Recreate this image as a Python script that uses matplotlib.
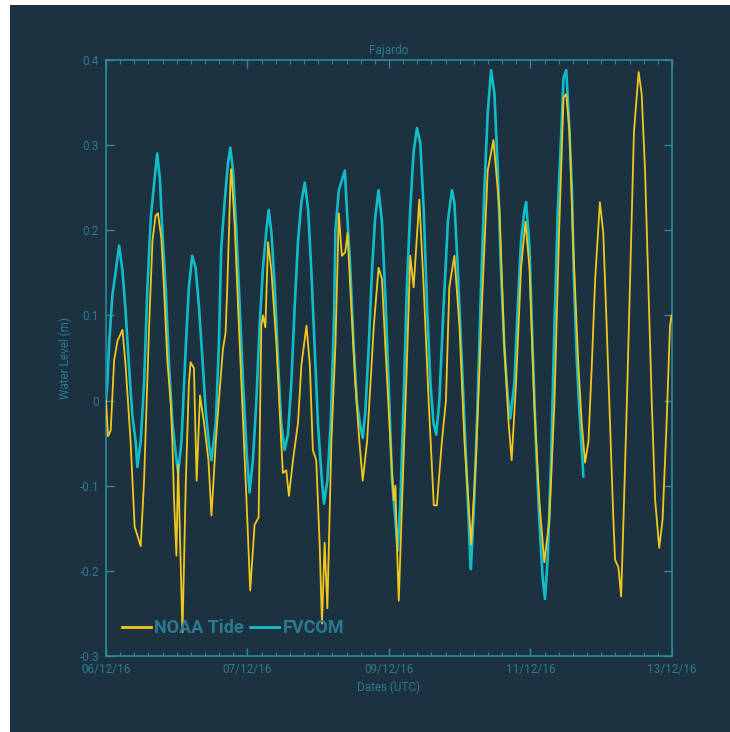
import pandas as pd
import matplotlib
matplotlib.use("Agg")
import matplotlib.pyplot as plt
import matplotlib.dates as mdates
from matplotlib.patches import Rectangle
from matplotlib.ticker import AutoMinorLocator, FuncFormatter, MultipleLocator

# hours since 06/12/16 00:00 UTC, water level in metres
noaa_hours = [0.0, 0.6, 1.4, 2.4, 3.4, 4.9, 5.8, 7.3, 8.5, 10.3, 11.3, 12.8, 13.8, 14.7, 15.4,
              16.4, 17.2, 18.2, 19.2, 19.7, 20.2, 20.9, 21.4, 22.7, 23.7, 24.6, 25.1, 26.1,
              26.9, 27.9, 29.1, 30.4, 31.3, 32.6, 33.5, 34.7, 35.5, 36.0, 37.0, 37.2, 38.2,
              39.2, 40.7, 41.7, 42.8, 44.1, 45.3, 46.1, 46.6, 47.3, 48.1, 49.1, 50.6, 52.0,
              52.5, 53.5, 54.3, 55.5, 57.0, 58.0, 59.5, 60.5, 61.4, 62.4, 63.4, 64.1, 64.9,
              65.7, 66.9, 68.1, 69.1, 70.0, 71.0, 71.7, 72.5, 74.0, 75.2, 76.2, 77.5, 79.5,
              80.9, 81.9, 82.9, 84.4, 85.4, 85.9, 86.4, 86.9, 87.9, 89.3, 90.3, 91.3, 93.0,
              94.3, 95.8, 97.3, 98.2, 99.7, 100.9, 101.9, 103.4, 104.9, 106.4, 108.4, 109.8,
              111.8, 113.3, 115.0, 116.8, 118.2, 119.5, 120.4, 121.7, 123.2, 124.5, 125.7,
              127.1, 128.6, 130.1, 131.6, 133.1, 134.5, 135.8, 136.6, 137.6, 138.7, 140.2,
              141.2, 142.2, 143.2, 144.2, 145.2, 146.6, 147.6, 148.6, 149.6, 150.6, 151.1,
              152.1, 152.9, 153.6, 154.6, 155.5, 156.7, 158.1, 159.0, 160.0, 161.0, 162.0,
              163.0, 164.2, 165.2, 166.4, 167.4, 167.9]
noaa_level = [0.0, -0.042, -0.035, 0.047, 0.07, 0.083, 0.042, -0.048, -0.148, -0.171, -0.094,
              0.088, 0.188, 0.217, 0.22, 0.192, 0.133, 0.047, -0.003, -0.048, -0.117, -0.182,
              -0.075, -0.272, -0.094, 0.02, 0.045, 0.038, -0.094, 0.006, -0.026, -0.07, -0.135,
              -0.048, 0.0, 0.06, 0.08, 0.133, 0.265, 0.272, 0.206, 0.11, -0.026, -0.117, -0.223,
              -0.146, -0.137, 0.088, 0.1, 0.086, 0.186, 0.152, 0.065, -0.048, -0.085, -0.082,
              -0.112, -0.07, -0.026, 0.042, 0.088, 0.042, -0.058, -0.07, -0.167, -0.262, -0.167,
              -0.244, -0.048, 0.065, 0.22, 0.17, 0.174, 0.197, 0.133, 0.02, -0.048, -0.094,
              -0.048, 0.088, 0.156, 0.143, 0.065, -0.048, -0.117, -0.1, -0.176, -0.235, -0.117,
              0.042, 0.17, 0.133, 0.236, 0.133, -0.003, -0.123, -0.123, -0.048, 0.0, 0.133,
              0.17, 0.088, -0.048, -0.169, -0.07, 0.133, 0.27, 0.306, 0.224, 0.065, -0.026,
              -0.07, 0.02, 0.156, 0.21, 0.156, -0.003, -0.117, -0.19, -0.14, -0.003, 0.2, 0.356,
              0.36, 0.315, 0.179, 0.042, -0.026, -0.073, -0.048, 0.042, 0.143, 0.233, 0.197,
              0.088, -0.026, -0.14, -0.187, -0.196, -0.23, -0.14, -0.003, 0.133, 0.315, 0.386,
              0.36, 0.27, 0.133, -0.003, -0.117, -0.173, -0.14, -0.026, 0.088, 0.1]

fvcom_hours = [0.0, 0.4, 0.9, 1.9, 2.9, 3.9, 4.9, 5.8, 6.8, 7.8, 8.8, 9.3, 10.3, 11.3, 12.3,
               13.3, 14.3, 15.2, 16.0, 16.7, 17.7, 18.7, 19.7, 20.7, 21.4, 22.4, 23.7, 24.6,
               25.6, 26.6, 27.6, 28.6, 29.6, 30.6, 31.3, 32.6, 33.5, 34.2, 35.2, 36.2, 36.9,
               37.7, 38.7, 39.7, 40.7, 41.7, 42.6, 43.6, 44.6, 45.6, 46.6, 47.6, 48.3, 49.1,
               50.1, 51.1, 52.0, 53.0, 54.0, 55.0, 56.0, 57.0, 58.0, 59.0, 60.0, 60.9, 61.9,
               62.9, 63.9, 64.7, 65.7, 66.7, 67.7, 68.1, 69.1, 70.1, 70.9, 71.5, 72.5, 73.5,
               74.5, 75.5, 76.2, 77.0, 78.0, 79.0, 79.9, 80.9, 81.9, 82.9, 83.9, 84.9, 85.9,
               86.6, 87.4, 88.3, 89.3, 90.3, 91.3, 92.3, 93.3, 94.3, 95.3, 96.3, 97.2, 98.0,
               98.9, 100.2, 101.5, 101.9, 102.7, 103.4, 104.4, 105.4, 106.4, 107.4, 108.1,
               108.3, 109.3, 110.3, 111.3, 112.3, 113.3, 114.3, 115.3, 116.3, 117.2, 118.2,
               119.2, 120.0, 121.2, 122.2, 123.2, 124.2, 124.7, 125.7, 126.6, 127.6, 128.6,
               129.6, 130.3, 131.1, 132.1, 133.1, 134.1, 135.4, 135.8, 136.6, 137.3, 138.3,
               138.9, 139.7, 140.5, 141.2, 141.7]
fvcom_level = [0.0, 0.02, 0.065, 0.124, 0.152, 0.182, 0.152, 0.106, 0.042, -0.017, -0.048,
               -0.078, -0.048, 0.02, 0.133, 0.215, 0.256, 0.29, 0.26, 0.2, 0.133, 0.042, -0.026,
               -0.062, -0.085, -0.048, 0.065, 0.133, 0.17, 0.156, 0.11, 0.05, -0.012, -0.053,
               -0.07, -0.026, 0.065, 0.179, 0.233, 0.279, 0.297, 0.27, 0.2, 0.11, 0.02, -0.058,
               -0.108, -0.07, -0.003, 0.088, 0.156, 0.2, 0.224, 0.197, 0.133, 0.042, -0.026,
               -0.058, -0.04, 0.02, 0.11, 0.188, 0.233, 0.256, 0.224, 0.156, 0.065, -0.026,
               -0.085, -0.121, -0.094, -0.026, 0.1, 0.2, 0.247, 0.26, 0.27, 0.224, 0.156, 0.065,
               -0.003, -0.03, -0.044, -0.012, 0.065, 0.156, 0.215, 0.247, 0.211, 0.124, 0.02,
               -0.094, -0.14, -0.176, -0.117, -0.003, 0.133, 0.224, 0.292, 0.32, 0.302, 0.224,
               0.11, 0.02, -0.026, -0.04, -0.003, 0.11, 0.211, 0.224, 0.247, 0.233, 0.156, 0.065,
               -0.026, -0.117, -0.185, -0.198, -0.117, -0.003, 0.133, 0.247, 0.338, 0.388, 0.36,
               0.27, 0.156, 0.065, 0.006, -0.021, 0.02, 0.11, 0.188, 0.224, 0.233, 0.179, 0.065,
               -0.048, -0.14, -0.208, -0.233, -0.185, -0.07, 0.088, 0.224, 0.338, 0.379, 0.388,
               0.338, 0.247, 0.143, 0.051, -0.012, -0.058, -0.089]

start = pd.Timestamp("2016-12-06 00:00")
end = pd.Timestamp("2016-12-13 00:00")

bg = "#1c3240"
spine = "#2a8a9e"
txt = "#2b7b90"
yellow = "#f2c81e"
cyan = "#12bcc8"

plt.rcParams["font.family"] = ["Roboto", "DejaVu Sans"]

fig = plt.figure(figsize=(7.3, 7.32), dpi=100)
fig.patch.set_facecolor("white")
fig.add_artist(Rectangle((10 / 730, 0), 720 / 730, 727 / 732, transform=fig.transFigure,
                         facecolor=bg, edgecolor="none", zorder=-10))

ax = fig.add_axes([106 / 730, 76 / 732, 566 / 730, 596 / 732])
ax.set_facecolor(bg)

t_noaa = start + pd.to_timedelta(noaa_hours, unit="h")
t_fvcom = start + pd.to_timedelta(fvcom_hours, unit="h")

ax.plot(t_noaa, noaa_level, color=yellow, lw=1.3, label="NOAA Tide", zorder=3)
ax.plot(t_fvcom, fvcom_level, color=cyan, lw=1.9, label="FVCOM", zorder=2)

ax.set_xlim(start, end)
ax.set_ylim(-0.3, 0.4)

# 5 major date ticks spread evenly over the week
majors = [start + (end - start) * i / 4 for i in range(5)]
ax.set_xticks(majors)
ax.xaxis.set_major_formatter(mdates.DateFormatter("%d/%m/%y"))
ax.xaxis.set_minor_locator(AutoMinorLocator(10))
ax.yaxis.set_major_locator(MultipleLocator(0.1))
ax.yaxis.set_major_formatter(FuncFormatter(lambda v, p: "0" if abs(v) < 1e-9 else f"{v:.1f}"))

for s in ax.spines.values():
    s.set_color(spine)
    s.set_linewidth(1.2)
ax.tick_params(which="both", direction="in", top=True, right=True, colors=spine,
               labelcolor=txt, labelsize=8.5, pad=5)
ax.tick_params(which="major", length=6, width=1)
ax.tick_params(which="minor", length=3, width=0.8)

ax.set_title("Fajardo", color=txt, fontsize=8.5, pad=4)
ax.set_xlabel("Dates (UTC)", color=txt, fontsize=8.5, labelpad=3)
ax.set_ylabel("Water Level (m)", color=txt, fontsize=8.5, labelpad=5)

leg = ax.legend(loc="center left", bbox_to_anchor=(16 / 566, 28 / 596), ncol=2, frameon=False,
                borderpad=0, borderaxespad=0, handlelength=1.6, handletextpad=0.2,
                columnspacing=0.35, prop={"size": 13, "weight": "bold"})
for t in leg.get_texts():
    t.set_color(txt)
for h in leg.get_lines():
    h.set_linewidth(2)

fig.savefig("out.png", dpi=100, facecolor=fig.get_facecolor())
